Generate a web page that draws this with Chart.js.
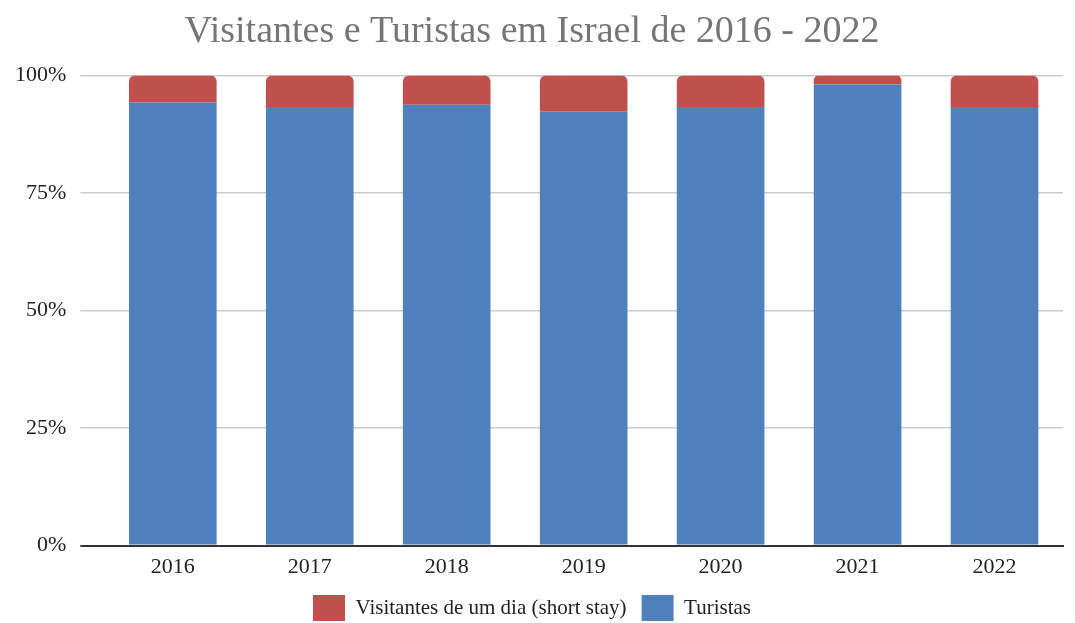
<!DOCTYPE html>
<html>
<head>
<meta charset="utf-8">
<script src="https://cdn.jsdelivr.net/npm/chart.js@4"></script>
<style>
  html, body { margin: 0; padding: 0; background: #fff; }
  #wrap { width: 1075px; height: 623px; }
</style>
</head>
<body>
<div id="wrap"><canvas id="visitChart" width="1075" height="623"></canvas></div>
<script>
// Anos e percentagens
const anos = ['2016', '2017', '2018', '2019', '2020', '2021', '2022'];
const turistas = [94.3, 93.3, 93.8, 92.4, 93.3, 98.1, 93.3];
const visitantesDia = [5.7, 6.7, 6.2, 7.6, 6.7, 1.9, 6.7];
const yTicks = [0, 25, 50, 75, 100];

const serif = 'Liberation Serif';

const ctx = document.getElementById('visitChart').getContext('2d');
const visitChart = new Chart(ctx, {
    type: 'bar',
    data: {
        labels: anos,
        datasets: [{
            label: 'Turistas',
            data: turistas,
            backgroundColor: '#4F81BD',
            barPercentage: 1,
            categoryPercentage: 0.64
        }, {
            label: 'Visitantes de um dia (short stay)',
            data: visitantesDia,
            backgroundColor: '#C0504D',
            borderRadius: { topLeft: 6, topRight: 6 },
            borderSkipped: false,
            barPercentage: 1,
            categoryPercentage: 0.64
        }]
    },
    options: {
        responsive: false,
        animation: false,
        layout: { padding: { left: 1, right: 12, top: 4, bottom: -8 } },
        plugins: {
            title: {
                display: true,
                text: 'Visitantes e Turistas em Israel de 2016 - 2022',
                color: '#757575',
                font: { family: serif, size: 38, weight: 'normal' },
                padding: { top: 5, bottom: 21 }
            },
            legend: {
                position: 'bottom',
                reverse: true,
                labels: {
                    color: '#222',
                    font: { family: serif, size: 21 },
                    boxWidth: 32,
                    boxHeight: 26,
                    padding: 15
                }
            },
            tooltip: { enabled: false }
        },
        scales: {
            x: {
                stacked: true,
                grid: { display: false },
                border: { color: '#333', width: 2 },
                ticks: { color: '#222', font: { family: serif, size: 22 }, padding: 0 }
            },
            y: {
                stacked: true,
                min: 0,
                max: 100,
                afterBuildTicks: axis => { axis.ticks = yTicks.map(v => ({ value: v })); },
                grid: {
                    color: c => c.tick && c.tick.value === 0 ? '#333' : '#cccccc',
                    lineWidth: c => c.tick && c.tick.value === 0 ? 2 : 1.5,
                    tickLength: 24
                },
                border: { display: false },
                ticks: {
                    color: '#222',
                    font: { family: serif, size: 22 },
                    padding: 14,
                    callback: v => v + '%'
                }
            }
        }
    }
});
</script>
</body>
</html>
